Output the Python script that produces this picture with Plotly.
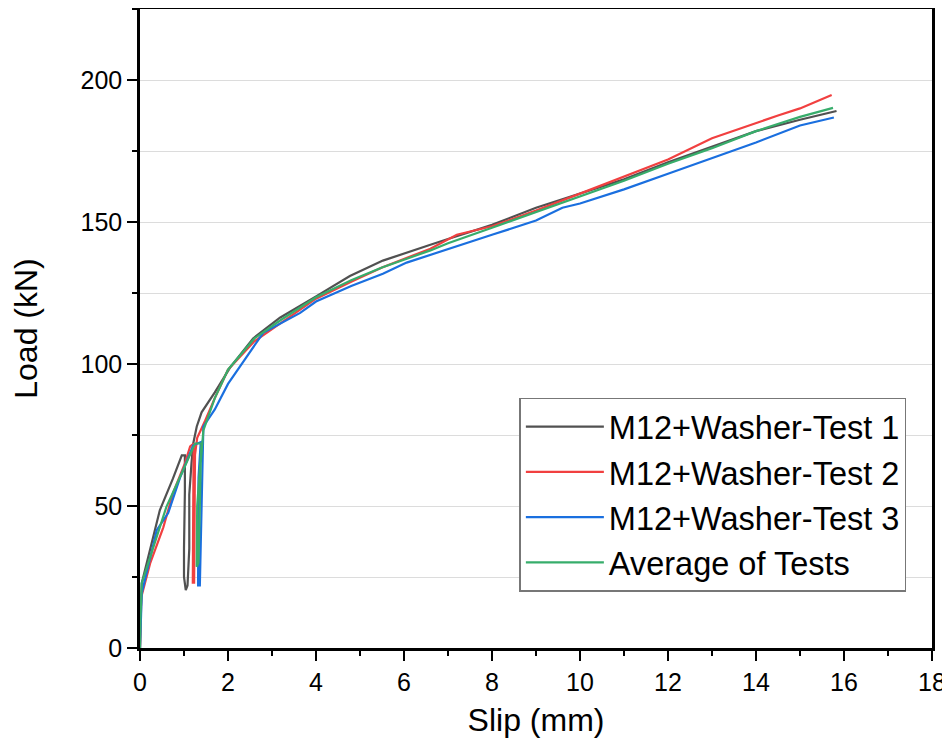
import plotly.graph_objects as go

# Test 1
slip_t1 = [0, 0.01, 0.04, 0.23, 0.45, 0.75, 0.95, 1.02, 1.02, 1.0, 1.0, 1.04, 1.08, 1.12, 1.12, 1.17, 1.21, 1.29, 1.4,
           1.7, 2.05, 2.57, 3.18, 4.02, 4.77, 5.52, 6.0, 6.6, 7.0, 8.0, 9.0, 10.0, 11.0, 12.0, 13.0, 14.0, 15.0, 15.83]
load_t1 = [0, 10, 22.8, 34.4, 48.5, 59.7, 67.8, 67.8, 55, 35, 25, 20.4, 22, 35, 54, 65, 72, 78, 83,
           90, 98.8, 109, 116.3, 124, 131, 136.4, 139, 142, 144, 149, 155, 160, 165, 171, 176.5, 182, 186, 189.1]

# Test 2
slip_t2 = [0, 0.01, 0.03, 0.23, 0.53, 0.75, 1.02, 1.14, 1.22, 1.21, 1.2, 1.23, 1.24, 1.25, 1.3, 1.48,
           1.7, 2.0, 2.6, 3.2, 4.0, 4.8, 5.5, 6.6, 7.2, 8.0, 9.0, 10.0, 11.0, 12.0, 13.0, 14.0, 14.5, 15.0, 15.72]
load_t2 = [0, 10, 18, 29.8, 42.5, 54.5, 65, 71, 72, 50, 23, 23, 50, 68, 74, 80,
           88, 98, 108, 114.5, 123, 129, 134, 140.6, 145.5, 148.5, 154, 160, 166, 172, 179.5, 185, 187.5, 190, 194.7]

# Test 3
slip_t3 = [0, 0.01, 0.04, 0.38, 0.64, 0.91, 1.21, 1.38, 1.33, 1.32, 1.36, 1.38, 1.41, 1.44,
           1.7, 2.0, 2.4, 2.8, 3.64, 4.0, 4.8, 5.52, 6.06, 6.6, 7.0, 8.0, 9.0, 9.6, 10.0, 11.0, 12.0, 13.0, 14.0, 15.0, 15.77]
load_t3 = [0, 8, 19.3, 41.5, 47.5, 60, 71.4, 72.5, 60, 22, 22, 36, 58, 78,
           84, 93, 102, 111, 118, 122, 127.5, 131.8, 135.7, 138.5, 140.5, 145.5, 150.5, 155, 156.5, 161.5, 167, 172.5, 178, 184, 186.8]

# Average
slip_avg = [0, 0.01, 0.04, 0.3, 0.6, 0.98, 1.25, 1.4, 1.3, 1.29, 1.33, 1.36, 1.38, 1.44,
            1.7, 2.0, 2.6, 3.2, 4.0, 4.8, 5.5, 6.6, 7.0, 8.0, 9.0, 10.0, 11.0, 12.0, 13.0, 14.0, 15.0, 15.75]
load_avg = [0, 10, 22.8, 35.5, 49.7, 62.6, 72, 72, 50, 28.6, 30, 50, 65, 76.6,
            88, 98, 109, 115.5, 123.5, 129.5, 134, 140, 142.5, 148, 153.5, 159, 164.5, 170.5, 176, 182, 187, 190.2]

names = ["M12+Washer-Test 1", "M12+Washer-Test 2", "M12+Washer-Test 3", "Average of Tests"]
colors = ["#515151", "#F14040", "#1A6FDF", "#37AD6B"]
series = [(slip_t1, load_t1), (slip_t2, load_t2), (slip_t3, load_t3), (slip_avg, load_avg)]

x_ticks = list(range(0, 19, 2))
y_ticks = [0, 50, 100, 150, 200]

fig = go.Figure()
for (xs, ys), n, c in zip(series, names, colors):
    fig.add_trace(go.Scatter(x=xs, y=ys, mode="lines", name=n,
                             line=dict(color=c, width=2.2)))

fig.update_layout(
    width=942, height=732,
    margin=dict(l=132, r=18, t=1, b=92),
    plot_bgcolor="white", paper_bgcolor="white",
    font=dict(family="Liberation Sans, Arial", color="black"),
    showlegend=True,
    legend=dict(x=0.479, y=0.392, xanchor="left", yanchor="top",
                bordercolor="#777777", borderwidth=1.5, bgcolor="white",
                font=dict(size=32.5, family="Liberation Sans, Arial"),
                itemwidth=78, tracegroupgap=0),
)
fig.update_xaxes(
    range=[0, 18], tickvals=x_ticks, showgrid=False, zeroline=False,
    showline=True, linecolor="black", linewidth=2.5, mirror=True,
    ticks="outside", ticklen=10, tickwidth=2, tickcolor="black",
    minor=dict(dtick=1, ticks="outside", ticklen=5, tickwidth=2, tickcolor="black", showgrid=False),
    tickfont=dict(size=25), ticklabeloverflow="allow", automargin=False,
    title=dict(text="Slip (mm)", font=dict(size=32), standoff=14),
)
fig.update_yaxes(
    range=[0, 225], tickvals=y_ticks, showgrid=True, gridcolor="#dcdcdc", gridwidth=1,
    zeroline=False,
    showline=True, linecolor="black", linewidth=2.5, mirror=True,
    ticks="outside", ticklen=10, tickwidth=2, tickcolor="black",
    minor=dict(dtick=25, ticks="outside", ticklen=5, tickwidth=2, tickcolor="black",
               showgrid=True, gridcolor="#dcdcdc", gridwidth=1),
    tickfont=dict(size=25),
    title=dict(text="Load (kN)", font=dict(size=32), standoff=36),
)

fig.write_html("out.html")
